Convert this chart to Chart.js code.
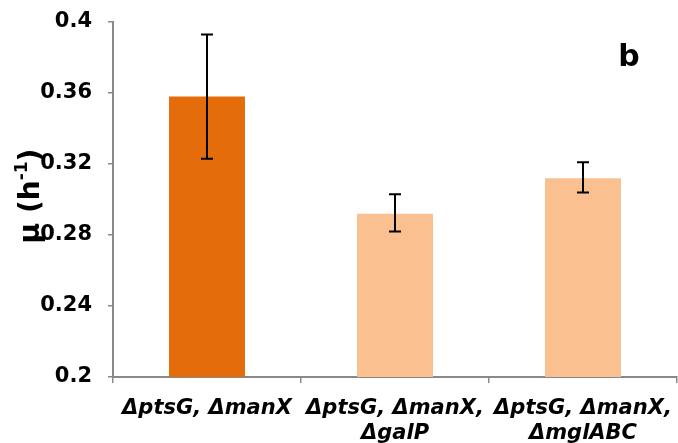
<!DOCTYPE html>
<html>
<head>
<meta charset="utf-8">
<script src="https://cdn.jsdelivr.net/npm/chart.js@4.4.1/dist/chart.umd.min.js"></script>
<style>
  html, body { margin: 0; padding: 0; background: #fff; }
  #wrap { width: 678px; height: 443px; }
</style>
</head>
<body>
<div id="wrap"><canvas id="c" width="678" height="443"></canvas></div>
<script>
// Strains (x categories); multi-line names are arrays
const categories = [
  ['ΔptsG, ΔmanX'],
  ['ΔptsG, ΔmanX,', 'ΔgalP'],
  ['ΔptsG, ΔmanX,', 'ΔmglABC']
];
// Specific growth rate μ (h^-1)
const growthRates = [0.358, 0.292, 0.312];
// Error bar ends (lower / upper)
const errLower = [0.323, 0.282, 0.304];
const errUpper = [0.393, 0.303, 0.321];
// Y axis tick labels
const yTickLabels = ['0.2', '0.24', '0.28', '0.32', '0.36', '0.4'];

const barColors = ['#E46C0A', '#FAC090', '#FAC090'];
const axisGray = '#898989';
const FONT = '"DejaVu Sans", Verdana, sans-serif';

const errorBars = {
  id: 'errorBars',
  afterDatasetsDraw(chart) {
    const ctx = chart.ctx;
    const y = chart.scales.y;
    const meta = chart.getDatasetMeta(0);
    ctx.save();
    ctx.strokeStyle = '#000';
    ctx.lineWidth = 2;
    meta.data.forEach((bar, i) => {
      const x = Math.round(bar.x);
      const yt = y.getPixelForValue(errUpper[i]);
      const yb = y.getPixelForValue(errLower[i]);
      ctx.beginPath();
      ctx.moveTo(x, yt); ctx.lineTo(x, yb);
      ctx.moveTo(x - 6, yt); ctx.lineTo(x + 6, yt);
      ctx.moveTo(x - 6, yb); ctx.lineTo(x + 6, yb);
      ctx.stroke();
    });
    ctx.restore();
  }
};

// Rotated axis title with superscript, and panel letter
const annotations = {
  id: 'annotations',
  afterDraw(chart) {
    const ctx = chart.ctx;
    ctx.save();
    ctx.fillStyle = '#000';
    // panel letter
    ctx.font = 'bold 30px ' + FONT;
    ctx.textAlign = 'center';
    ctx.textBaseline = 'alphabetic';
    ctx.fillText('b', 629, 66);
    // y axis title
    ctx.translate(39, 196);
    ctx.rotate(-Math.PI / 2);
    const big = 'bold 28px ' + FONT;
    const small = 'bold 17px ' + FONT;
    ctx.font = big;
    const p1 = 'μ (h';
    const w1 = ctx.measureText(p1).width;
    ctx.font = small;
    const p2 = '-1';
    const w2 = ctx.measureText(p2).width;
    ctx.font = big;
    const p3 = ')';
    const w3 = ctx.measureText(p3).width;
    let x = -(w1 + w2 + w3) / 2;
    ctx.textAlign = 'left';
    ctx.fillText(p1, x, 0); x += w1;
    ctx.font = small;
    ctx.fillText(p2, x, -12); x += w2;
    ctx.font = big;
    ctx.fillText(p3, x, 0);
    ctx.restore();
  }
};

new Chart(document.getElementById('c'), {
  type: 'bar',
  data: {
    labels: categories,
    datasets: [{
      data: growthRates,
      backgroundColor: barColors,
      borderWidth: 0,
      barPercentage: 0.404,
      categoryPercentage: 1
    }]
  },
  options: {
    responsive: false,
    animation: false,
    devicePixelRatio: 1,
    layout: { padding: { top: 22, right: 1, left: 0, bottom: 0 } },
    plugins: { legend: { display: false }, tooltip: { enabled: false } },
    scales: {
      x: {
        grid: { display: true, drawOnChartArea: false, drawTicks: true, tickLength: 6, color: axisGray, lineWidth: 1.5, offset: true },
        border: { color: axisGray, width: 2 },
        ticks: {
          color: '#000',
          padding: 13,
          maxRotation: 0,
          autoSkip: false,
          font: { family: FONT, size: 21, weight: 'bold', style: 'italic', lineHeight: 1.2 }
        },
        afterFit(s) { s.height = 66; s.paddingLeft = 0; s.paddingRight = 0; }
      },
      y: {
        min: 0.2,
        max: 0.4,
        grid: { display: true, drawOnChartArea: false, drawTicks: true, tickLength: 5, color: axisGray, lineWidth: 1.5 },
        border: { color: axisGray, width: 2 },
        ticks: {
          stepSize: 0.04,
          color: '#000',
          padding: 16,
          font: { family: FONT, size: 21, weight: 'bold' },
          callback: (v, i) => yTickLabels[i]
        },
        afterFit(s) { s.width = 113; s.paddingTop = 0; s.paddingBottom = 0; }
      }
    }
  },
  plugins: [errorBars, annotations]
});
</script>
</body>
</html>
